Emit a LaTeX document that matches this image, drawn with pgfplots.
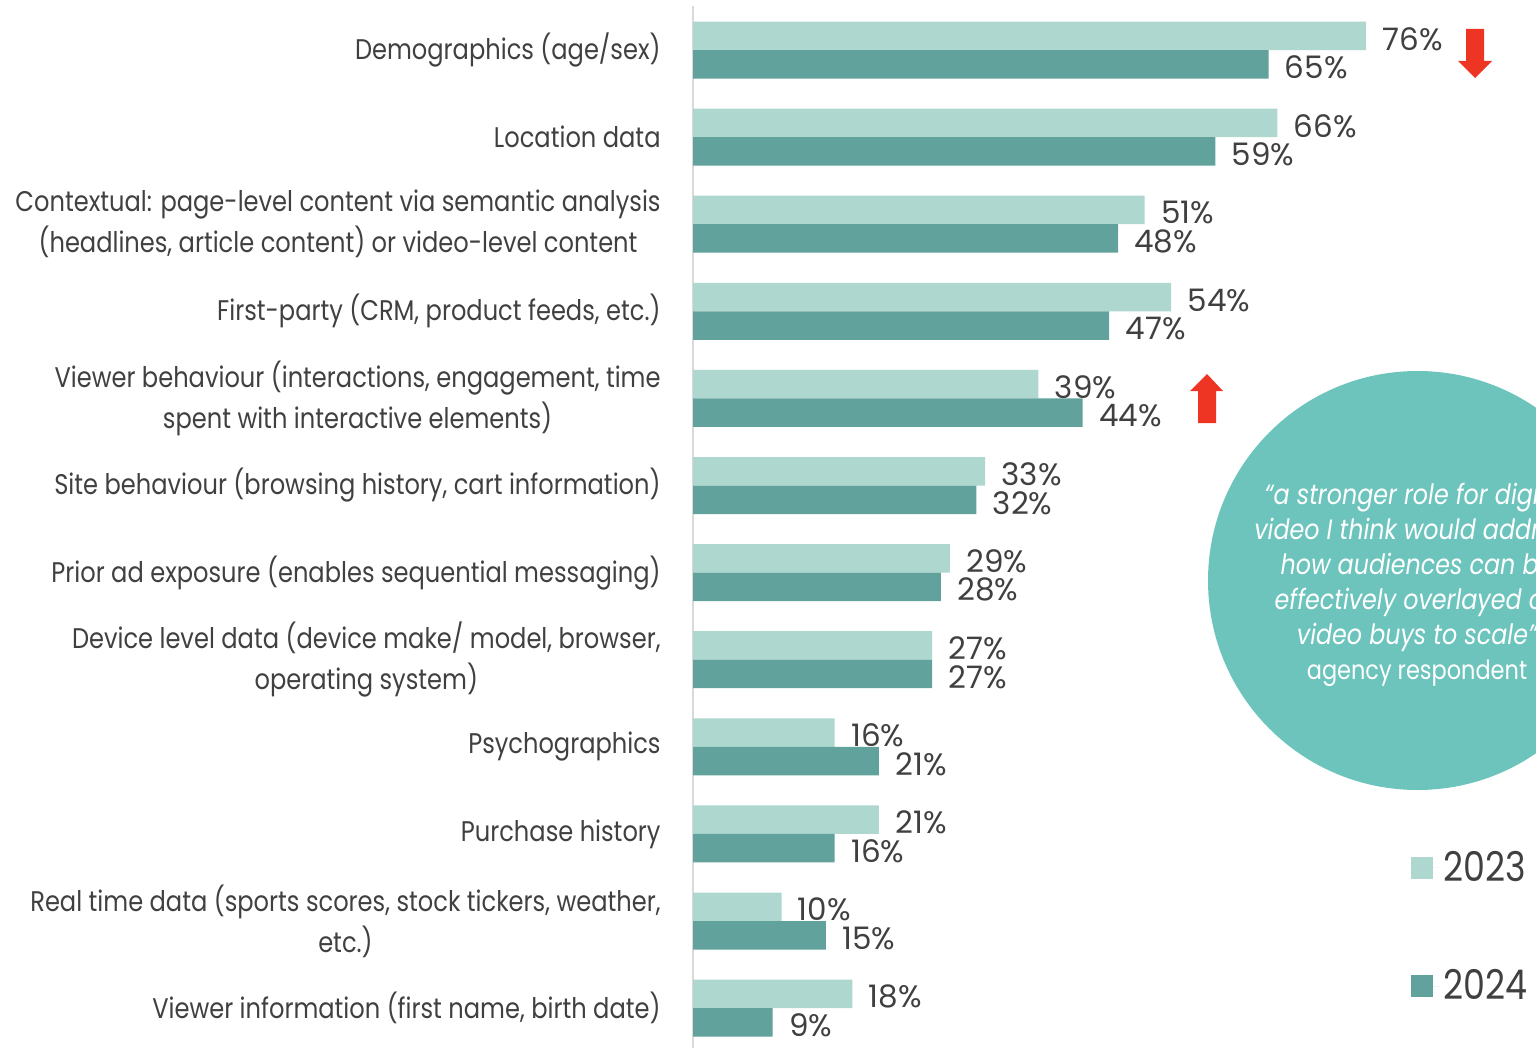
\documentclass[border=0pt]{standalone}
\usepackage{fontspec}
\setmainfont{Poppins}[FakeStretch=0.85]
\newfontfamily\numfont{Poppins}
\usepackage{pgfplots}
\usepackage{pgfplotstable}
\pgfplotsset{compat=1.18}
\definecolor{c23}{HTML}{AED7CF}
\definecolor{c24}{HTML}{62A29D}
\definecolor{circ}{HTML}{6CC4BD}
\definecolor{txt}{HTML}{404040}
\definecolor{arr}{HTML}{EE3524}
\pgfplotstableread{
idx y23 y24
0 76 65
1 66 59
2 51 48
3 54 47
4 39 44
5 33 32
6 29 28
7 27 27
8 16 21
9 21 16
10 10 15
11 18 9
}\data
\begin{document}
\begin{tikzpicture}
\useasboundingbox (0,0) rectangle (768pt,-524pt);
\clip (0,0) rectangle (768pt,-524pt);
\begin{scope}[x=0.5pt,y=-0.5pt]
\fill[circ] (1417.5,580.5) circle (104.75pt);
\node[text=white, align=center, font=\fontsize{14}{17.5}\selectfont\itshape] at (1417,584.5)
 {\textquotedblleft a stronger role for digital\\video I think would address\\how audiences can be\\effectively overlayed on\\video buys to scale\textquotedblright\\{\upshape\fontsize{13.2}{17.5}\selectfont agency respondent}};
\fill[arr] (1466,29) -- (1484,29) -- (1484,61) -- (1492,61) -- (1475,78) -- (1458,61) -- (1466,61) -- cycle;
\fill[arr] (1198,423) -- (1216,423) -- (1216,391) -- (1223,391) -- (1207,374) -- (1190,391) -- (1198,391) -- cycle;
\end{scope}
\begin{axis}[
 at={(346.5pt,-3.225pt)}, anchor=north west,
 width=421.5pt, height=522.6pt, scale only axis,
 xmin=0, xmax=95.2, ymin=-0.5, ymax=11.5, y dir=reverse,
 xbar, bar width=14.25pt,
 axis x line=none, axis y line*=left,
 y axis line style={draw=black!15, line width=0.8pt, -},
 ytick={0,...,11},
 yticklabels={
 {Demographics (age/sex)},
 {Location data},
 {Contextual: page-level content via semantic analysis\\(headlines, article content) or video-level content},
 {First-party (CRM, product feeds, etc.)},
 {Viewer behaviour (interactions, engagement, time\\spent with interactive elements)},
 {Site behaviour (browsing history, cart information)},
 {Prior ad exposure (enables sequential messaging)},
 {Device level data (device make/ model, browser,\\operating system)},
 {Psychographics},
 {Purchase history},
 {Real time data (sports scores, stock tickers, weather,\\etc.)},
 {Viewer information (first name, birth date)}},
 major tick length=0pt,
 yticklabel style={align=center, font=\fontsize{14.2}{20.5}\selectfont, text=txt, anchor=east, xshift=-16pt, inner sep=0pt},
 point meta=x,
 nodes near coords={\pgfmathprintnumber[assume math mode=true]{\pgfplotspointmeta}\%},
 nodes near coords style={font=\numfont\fontsize{15.5}{16}\selectfont, text=txt, anchor=west, inner sep=0pt, xshift=8pt, yshift=-1.5pt},
 legend style={at={(0.8437,0.1997)}, anchor=north west, draw=none, fill=none, font=\fontsize{20.5}{21}\selectfont, text=txt, row sep=38.5pt},
 legend cell align=left,
 legend image code/.code={\path (0pt,0pt) -- (14.5pt,0pt); \fill[#1] (0pt,-5.5pt) rectangle (11pt,5.5pt);},
]
\addplot[fill=c23, draw=none, bar shift=7.125pt] table[x=y23, y=idx]{\data};
\addplot[fill=c24, draw=none, bar shift=-7.125pt] table[x=y24, y=idx]{\data};
\legend{2023,2024}
\end{axis}
\end{tikzpicture}
\end{document}
